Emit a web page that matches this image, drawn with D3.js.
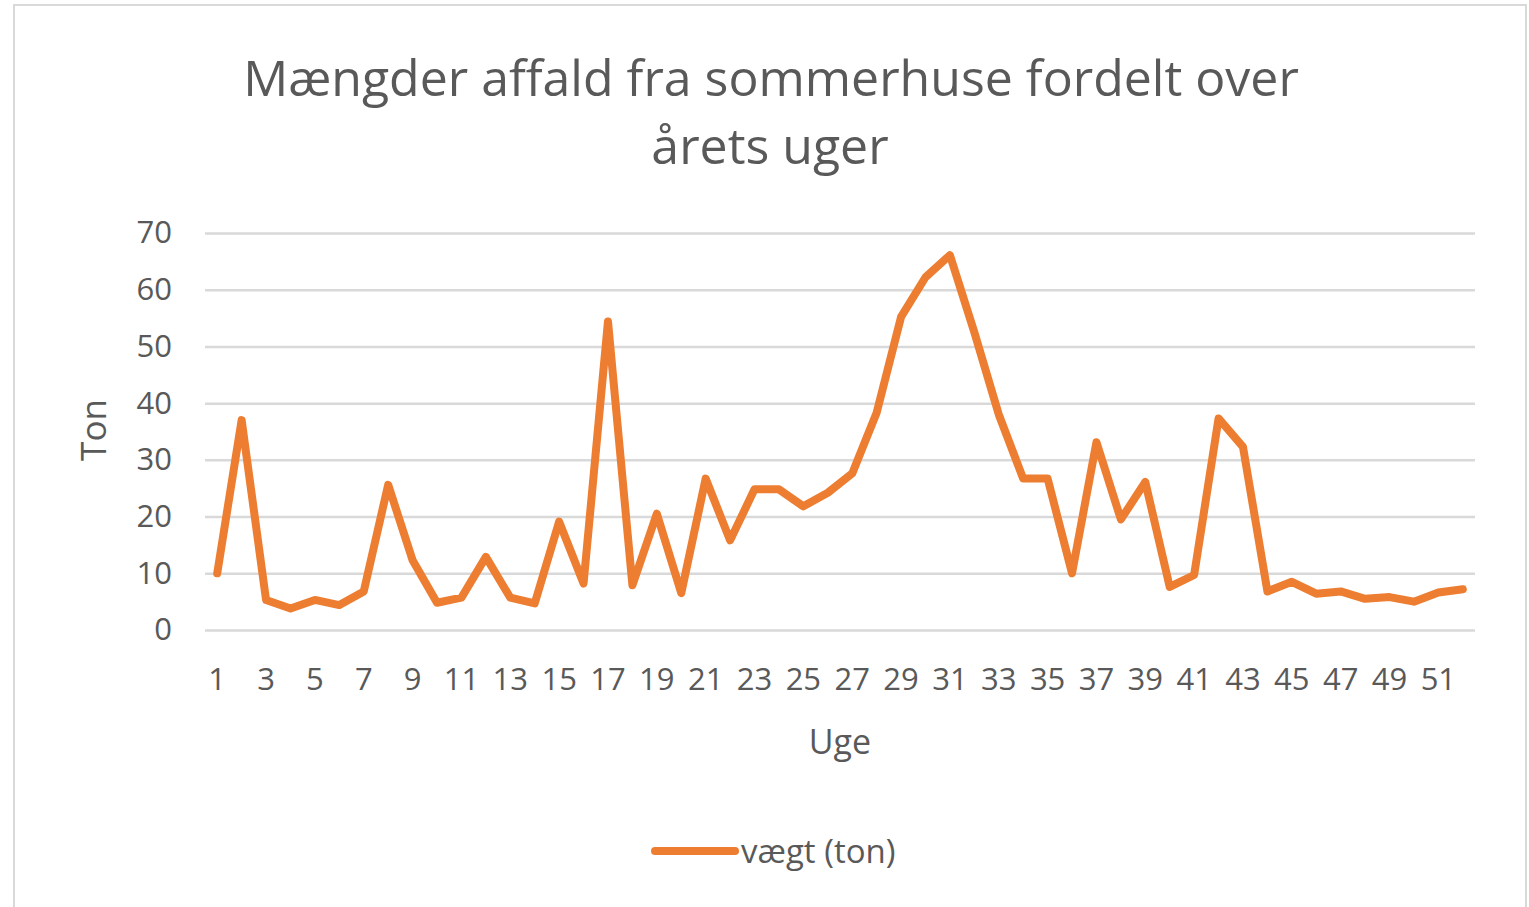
<!DOCTYPE html>
<html>
<head>
<meta charset="utf-8">
<script src="https://cdn.jsdelivr.net/npm/d3@7"></script>
<style>
  body { margin: 0; background: #fff; }
  text { font-family: "Open Sans", sans-serif; fill: #595959; }
</style>
</head>
<body>
<svg id="chart" width="1529" height="907"></svg>
<script>
// uge 1..52
var weeks = d3.range(1, 53)
var tons = [10, 37, 5.3, 3.8, 5.3, 4.4, 6.8, 25.6, 12.3, 4.8, 5.7, 12.9, 5.7, 4.7, 19.1, 8.2,
  54.4, 7.9, 20.5, 6.5, 26.7, 15.8, 24.8, 24.8, 21.8, 24.2, 27.6, 38.3, 55.2, 62.2, 66.1, 52.5,
  38, 26.7, 26.7, 10, 33.1, 19.5, 26.1, 7.6, 9.7, 37.3, 32.3, 6.8, 8.5, 6.4, 6.8, 5.5,
  5.8, 5.0, 6.6, 7.2]
var yTicks = [0, 10, 20, 30, 40, 50, 60, 70]
var titleLines = ['Mængder affald fra sommerhuse fordelt over', 'årets uger']
var seriesName = 'vægt (ton)'

var data = weeks.map((w, i) => ({ week: w, ton: tons[i] }))

var svg = d3.select('#chart')

// ramme
svg.append('rect').attr('x', 14).attr('y', 5).attr('width', 1512).attr('height', 920)
  .attr('fill', '#fff').attr('stroke', '#d9d9d9').attr('stroke-width', 2)

var xScale = d3.scaleBand().domain(weeks).range([205, 1475])
var yScale = d3.scaleLinear().domain([0, 70]).range([630, 233])

// gitterlinjer
var yAxis = d3.axisLeft(yScale).tickValues(yTicks).tickSize(-1270).tickPadding(33)
var yG = svg.append('g').attr('transform', 'translate(205,0)').call(yAxis)
yG.select('.domain').remove()
yG.selectAll('line').attr('stroke', '#d9d9d9').attr('stroke-width', 2.5)
yG.selectAll('text').style('font-size', '31px').attr('fill', '#595959')

var xAxis = d3.axisBottom(xScale).tickValues(weeks.filter(w => w % 2 == 1)).tickSize(0).tickPadding(38)
var xG = svg.append('g').attr('transform', 'translate(0,630)').call(xAxis)
xG.select('.domain').remove()
xG.selectAll('text').style('font-size', '31px').attr('fill', '#595959')

var line = d3.line()
  .x(d => xScale(d.week) + xScale.bandwidth() / 2)
  .y(d => yScale(d.ton))

svg.append('path').datum(data).attr('d', line)
  .attr('fill', 'none').attr('stroke', '#ED7D31').attr('stroke-width', 8)
  .attr('stroke-linejoin', 'round').attr('stroke-linecap', 'round')

// titel
svg.selectAll('.title').data(titleLines).enter().append('text')
  .attr('class', 'title')
  .attr('x', (d, i) => i == 0 ? 771 : 770)
  .attr('y', (d, i) => 96 + i * 68)
  .attr('text-anchor', 'middle')
  .style('font-size', '50px')
  .text(d => d)

// aksetitler
svg.append('text').attr('x', 840).attr('y', 754).attr('text-anchor', 'middle')
  .style('font-size', '34px').text('Uge')
svg.append('text').attr('transform', 'translate(106,430) rotate(-90)').attr('text-anchor', 'middle')
  .style('font-size', '35px').text('Ton')

// forklaring
svg.append('line').attr('x1', 655).attr('x2', 735).attr('y1', 851).attr('y2', 851)
  .attr('stroke', '#ED7D31').attr('stroke-width', 8).attr('stroke-linecap', 'round')
svg.append('text').attr('x', 741).attr('y', 863).style('font-size', '33px').text(seriesName)
</script>
</body>
</html>
